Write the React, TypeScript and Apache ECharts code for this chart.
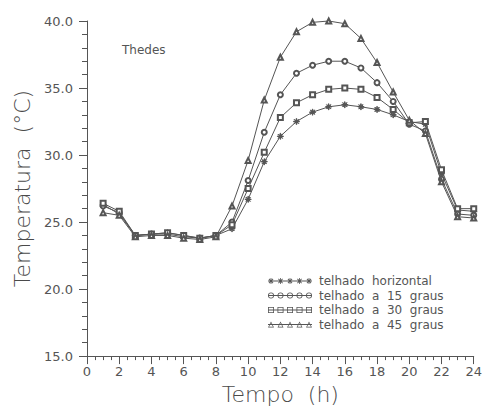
import React, { useEffect, useRef } from "react";
import * as echarts from "echarts";

const hours = [1, 2, 3, 4, 5, 6, 7, 8, 9, 10, 11, 12, 13, 14, 15, 16, 17, 18, 19, 20, 21, 22, 23, 24];
const telhadoHorizontal = [26.3, 25.6, 24.0, 24.1, 24.2, 24.0, 23.8, 24.0, 24.5, 26.7, 29.5, 31.4, 32.5, 33.2, 33.6, 33.75, 33.6, 33.4, 33.0, 32.5, 32.3, 28.6, 25.9, 25.8];
const telhado15 = [26.2, 25.7, 24.0, 24.1, 24.1, 23.9, 23.8, 24.0, 25.0, 28.1, 31.7, 34.5, 36.1, 36.7, 37.0, 37.0, 36.5, 35.4, 34.0, 32.3, 31.8, 28.2, 25.6, 25.5];
const telhado30 = [26.4, 25.8, 24.0, 24.1, 24.2, 24.0, 23.8, 24.0, 24.8, 27.5, 30.2, 32.8, 33.9, 34.5, 34.9, 35.0, 34.9, 34.3, 33.4, 32.4, 32.5, 28.9, 26.0, 26.0];
const telhado45 = [25.7, 25.5, 23.9, 24.0, 24.0, 23.8, 23.7, 23.9, 26.2, 29.6, 34.1, 37.3, 39.2, 39.9, 40.0, 39.8, 38.7, 36.9, 34.7, 32.6, 31.6, 28.0, 25.4, 25.3];
const seriesNames = ["telhado  horizontal", "telhado  a  15  graus", "telhado  a  30  graus", "telhado  a  45  graus"];
const xTicks = { min: 0, max: 24, interval: 2 };
const yTicks = { min: 15, max: 40, interval: 5 };

const INK = "#555";
const FONT = "DejaVu Sans";

function bar(x1: number, y1: number, x2: number, y2: number, h: number): string {
  const len = Math.hypot(x2 - x1, y2 - y1);
  const dx = (x2 - x1) / len, dy = (y2 - y1) / len;
  const nx = -dy * h, ny = dx * h;
  const p = [
    [x1 - nx, y1 - ny], [x2 - nx, y2 - ny], [x2 + nx, y2 + ny], [x1 + nx, y1 + ny],
  ].map((q) => q[0].toFixed(2) + " " + q[1].toFixed(2));
  return ` M${p[0]} L${p[1]} L${p[2]} L${p[3]} Z`;
}

function marker(kind: string, cx: number, cy: number, r: number): string {
  if (kind === "star") {
    return (
      bar(cx, cy - r, cx, cy + r, 0.4) +
      bar(cx - r, cy, cx + r, cy, 0.4) +
      bar(cx - r * 0.7, cy - r * 0.7, cx + r * 0.7, cy + r * 0.7, 0.4) +
      bar(cx + r * 0.7, cy - r * 0.7, cx - r * 0.7, cy + r * 0.7, 0.4)
    );
  }
  if (kind === "circle") {
    const ri = r - 0.8;
    return (
      ` M${cx + r} ${cy} A${r} ${r} 0 1 1 ${cx - r} ${cy} A${r} ${r} 0 1 1 ${cx + r} ${cy} Z` +
      ` M${cx + ri} ${cy} A${ri} ${ri} 0 1 0 ${cx - ri} ${cy} A${ri} ${ri} 0 1 0 ${cx + ri} ${cy} Z`
    );
  }
  if (kind === "rect") {
    const ri = r - 0.8;
    return (
      ` M${cx - r} ${cy - r} H${cx + r} V${cy + r} H${cx - r} Z` +
      ` M${cx - ri} ${cy - ri} V${cy + ri} H${cx + ri} V${cy - ri} Z`
    );
  }
  return (
    ` M${cx} ${cy - r} L${cx + r} ${cy + r} L${cx - r} ${cy + r} Z` +
    ` M${cx} ${cy - r + 1.6} L${cx - r + 1.1} ${cy + r - 0.7} L${cx + r - 1.1} ${cy + r - 0.7} Z`
  );
}

function legendIcon(kind: string): string {
  let d = "M0 2.6 H44 V3.4 H0 Z";
  [3, 12.5, 22, 31.5, 41].forEach((cx) => {
    d += marker(kind, cx, 3, 3);
  });
  return "path://" + d;
}

const kinds = ["star", "circle", "rect", "tri"];
const seriesSymbols = [
  "path://" + marker("star", 5, 5, 5),
  "emptyCircle",
  "emptyRect",
  "emptyTriangle",
];

export default function App() {
  const ref = useRef<HTMLDivElement>(null);
  useEffect(() => {
    if (!ref.current) return;
    const chart = echarts.init(ref.current, null, { renderer: "svg" });
    const all = [telhadoHorizontal, telhado15, telhado30, telhado45];
    chart.setOption({
      animation: false,
      backgroundColor: "#fff",
      grid: { left: 87, right: 2, top: 21, bottom: 53 },
      xAxis: {
        type: "value",
        min: xTicks.min,
        max: xTicks.max,
        interval: xTicks.interval,
        name: "Tempo  (h)",
        nameLocation: "middle",
        nameGap: 24,
        nameTextStyle: { fontFamily: FONT, fontSize: 22, color: "#4a4a4a", fontWeight: 200 },
        axisLine: { lineStyle: { color: INK, width: 1 } },
        axisTick: { show: true, length: 8, lineStyle: { color: INK } },
        minorTick: { show: true, splitNumber: 4, length: 4, lineStyle: { color: INK } },
        axisLabel: {
          fontFamily: FONT,
          fontSize: 13,
          color: INK,
          margin: 9,
          showMaxLabel: true,
          alignMaxLabel: "center",
          alignMinLabel: "center",
        },
        splitLine: { show: false },
      },
      yAxis: {
        type: "value",
        min: yTicks.min,
        max: yTicks.max,
        interval: yTicks.interval,
        name: "Temperatura  (°C)",
        nameLocation: "middle",
        nameRotate: 90,
        nameGap: 54,
        nameTextStyle: { fontFamily: FONT, fontSize: 22, color: "#4a4a4a", fontWeight: 200 },
        axisLine: { show: true, lineStyle: { color: INK, width: 1 } },
        axisTick: { show: true, length: 8, lineStyle: { color: INK } },
        minorTick: { show: true, splitNumber: 5, length: 5, lineStyle: { color: INK } },
        axisLabel: {
          fontFamily: FONT,
          fontSize: 13,
          color: INK,
          margin: 14,
          formatter: (v: number) => v.toFixed(1),
        },
        splitLine: { show: false },
      },
      legend: {
        orient: "vertical",
        left: 263,
        top: 269,
        itemWidth: 44,
        itemHeight: 6,
        itemGap: 0.5,
        selectedMode: false,
        textStyle: { fontFamily: FONT, fontSize: 12, color: INK, lineHeight: 14, padding: [0, 0, 0, 2] },
        itemStyle: { color: INK, borderWidth: 0 },
        data: seriesNames.map((n, i) => ({ name: n, icon: legendIcon(kinds[i]) })),
      },
      graphic: [
        {
          type: "text",
          left: 122,
          top: 44,
          style: { text: "Thedes", fontFamily: FONT, fontSize: 12, fill: INK },
        },
      ],
      series: all.map((vals, i) => ({
        name: seriesNames[i],
        type: "line",
        data: hours.map((h, k) => [h, vals[k]]),
        symbol: seriesSymbols[i],
        symbolSize: i === 0 ? 6 : 5,
        clip: false,
        lineStyle: { color: INK, width: 1 },
        itemStyle: { color: INK, borderColor: INK, borderWidth: 1 },
        z: 2 + i,
      })),
    });
    return () => chart.dispose();
  }, []);
  return (
    <div
      ref={ref}
      style={{ position: "fixed", left: 0, top: 0, width: 485, height: 410 }}
    />
  );
}
